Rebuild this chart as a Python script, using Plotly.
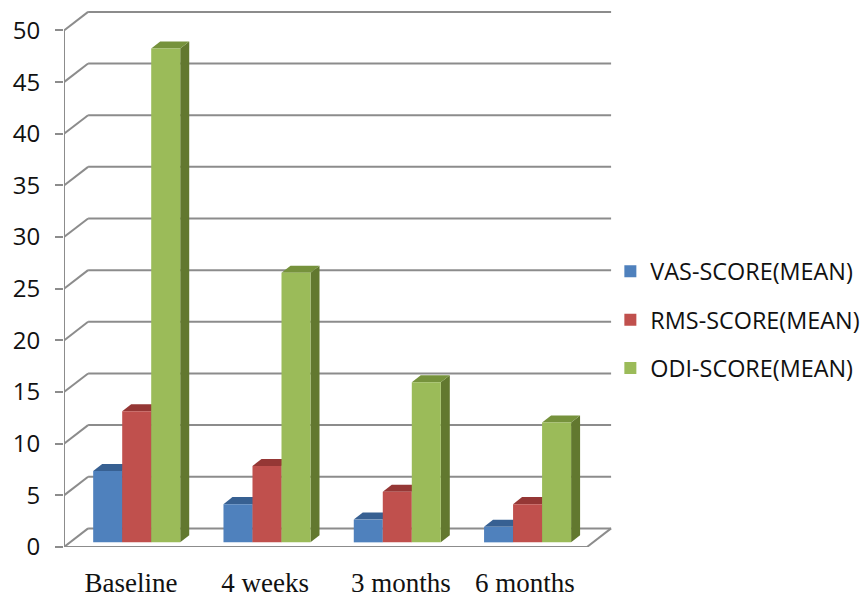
import plotly.graph_objects as go

categories = ["Baseline", "4 weeks", "3 months", "6 months"]
vas_score = [6.9, 3.7, 2.2, 1.5]
rms_score = [12.7, 7.4, 4.9, 3.7]
odi_score = [47.8, 26.1, 15.5, 11.6]
series_names = ["VAS-SCORE(MEAN)", "RMS-SCORE(MEAN)", "ODI-SCORE(MEAN)"]
y_ticks = list(range(0, 51, 5))
label_offsets = [-0.044, -0.015, 0.028, -0.02]

front_colors = ["#4F81BD", "#C0504D", "#9BBB59"]
top_colors = ["#376092", "#953735", "#76923C"]
side_colors = ["#2F5480", "#7F2F2D", "#62782F"]
GRID = "#8C8C8C"

X_MIN, X_MAX = -0.558, 3.648
FLOOR_RIGHT = 3.456
WALL_DX, WALL_DY = 0.185, 1.8
BAR_BASE = 0.45
BAR_W = 0.2227
BAR_DX, BAR_DY = 0.069, 0.68

positions = list(range(len(categories)))
all_values = [vas_score, rms_score, odi_score]


def line(x0, y0, x1, y1):
    return dict(type="line", xref="x", yref="y", x0=x0, y0=y0, x1=x1, y1=y1,
                layer="below", line=dict(color=GRID, width=2))


def poly(points, color):
    path = "M" + " L".join(f"{px},{py}" for px, py in points) + " Z"
    return dict(type="path", xref="x", yref="y", path=path, layer="below",
                fillcolor=color, line=dict(width=0))


shapes = []
for t in y_ticks:
    shapes.append(line(X_MIN, t, X_MIN + WALL_DX, t + WALL_DY))
    shapes.append(line(X_MIN + WALL_DX, t + WALL_DY, FLOOR_RIGHT + WALL_DX, t + WALL_DY))
shapes.append(line(X_MIN, 0, X_MIN, y_ticks[-1]))
shapes.append(line(X_MIN, 0, FLOOR_RIGHT, 0))
shapes.append(line(FLOOR_RIGHT, 0, FLOOR_RIGHT + WALL_DX, WALL_DY))

for s, vals in enumerate(all_values):
    for p, v in zip(positions, vals):
        left = p + (s - 1.5) * BAR_W
        right = left + BAR_W
        top = BAR_BASE + v
        shapes.append(poly([(right, BAR_BASE), (right, top), (right + BAR_DX, top + BAR_DY),
                            (right + BAR_DX, BAR_BASE + BAR_DY)], side_colors[s]))
        shapes.append(poly([(left, top), (right, top), (right + BAR_DX, top + BAR_DY),
                            (left + BAR_DX, top + BAR_DY)], top_colors[s]))

fig = go.Figure()
for s, vals in enumerate(all_values):
    fig.add_trace(go.Bar(x=positions, y=vals, base=BAR_BASE, name=series_names[s],
                         legendgroup=series_names[s],
                         marker=dict(color=front_colors[s], line=dict(width=0))))

fig.update_layout(
    width=863, height=598,
    margin=dict(l=64, r=251, t=0, b=51, autoexpand=False),
    paper_bgcolor="white", plot_bgcolor="white",
    barmode="group", bargap=0.332, bargroupgap=0,
    shapes=shapes,
    font=dict(family="Open Sans", color="#111111"),
    xaxis=dict(range=[X_MIN, X_MAX], tickmode="array",
               tickvals=[p + o for p, o in zip(positions, label_offsets)], ticktext=categories,
               showgrid=False, zeroline=False, showline=False, ticks="",
               ticklabelstandoff=17,
               tickfont=dict(family="Liberation Serif", size=27, color="#111111")),
    yaxis=dict(range=[0, 52.95], tickmode="array", tickvals=y_ticks, showgrid=False, zeroline=False,
               showline=False, ticks="outside", ticklen=8, tickwidth=2, tickcolor=GRID,
               ticklabelstandoff=10,
               tickfont=dict(family="Open Sans", size=24, color="#111111")),
    legend=dict(x=0.997, y=0.415, xanchor="left", yanchor="middle", traceorder="grouped",
                tracegroupgap=15, bgcolor="rgba(0,0,0,0)",
                font=dict(family="Open Sans", size=23.4, color="#111111")),
)
fig.write_html("out.html", config={"displayModeBar": False},
               post_script="document.body.style.margin='0';")
